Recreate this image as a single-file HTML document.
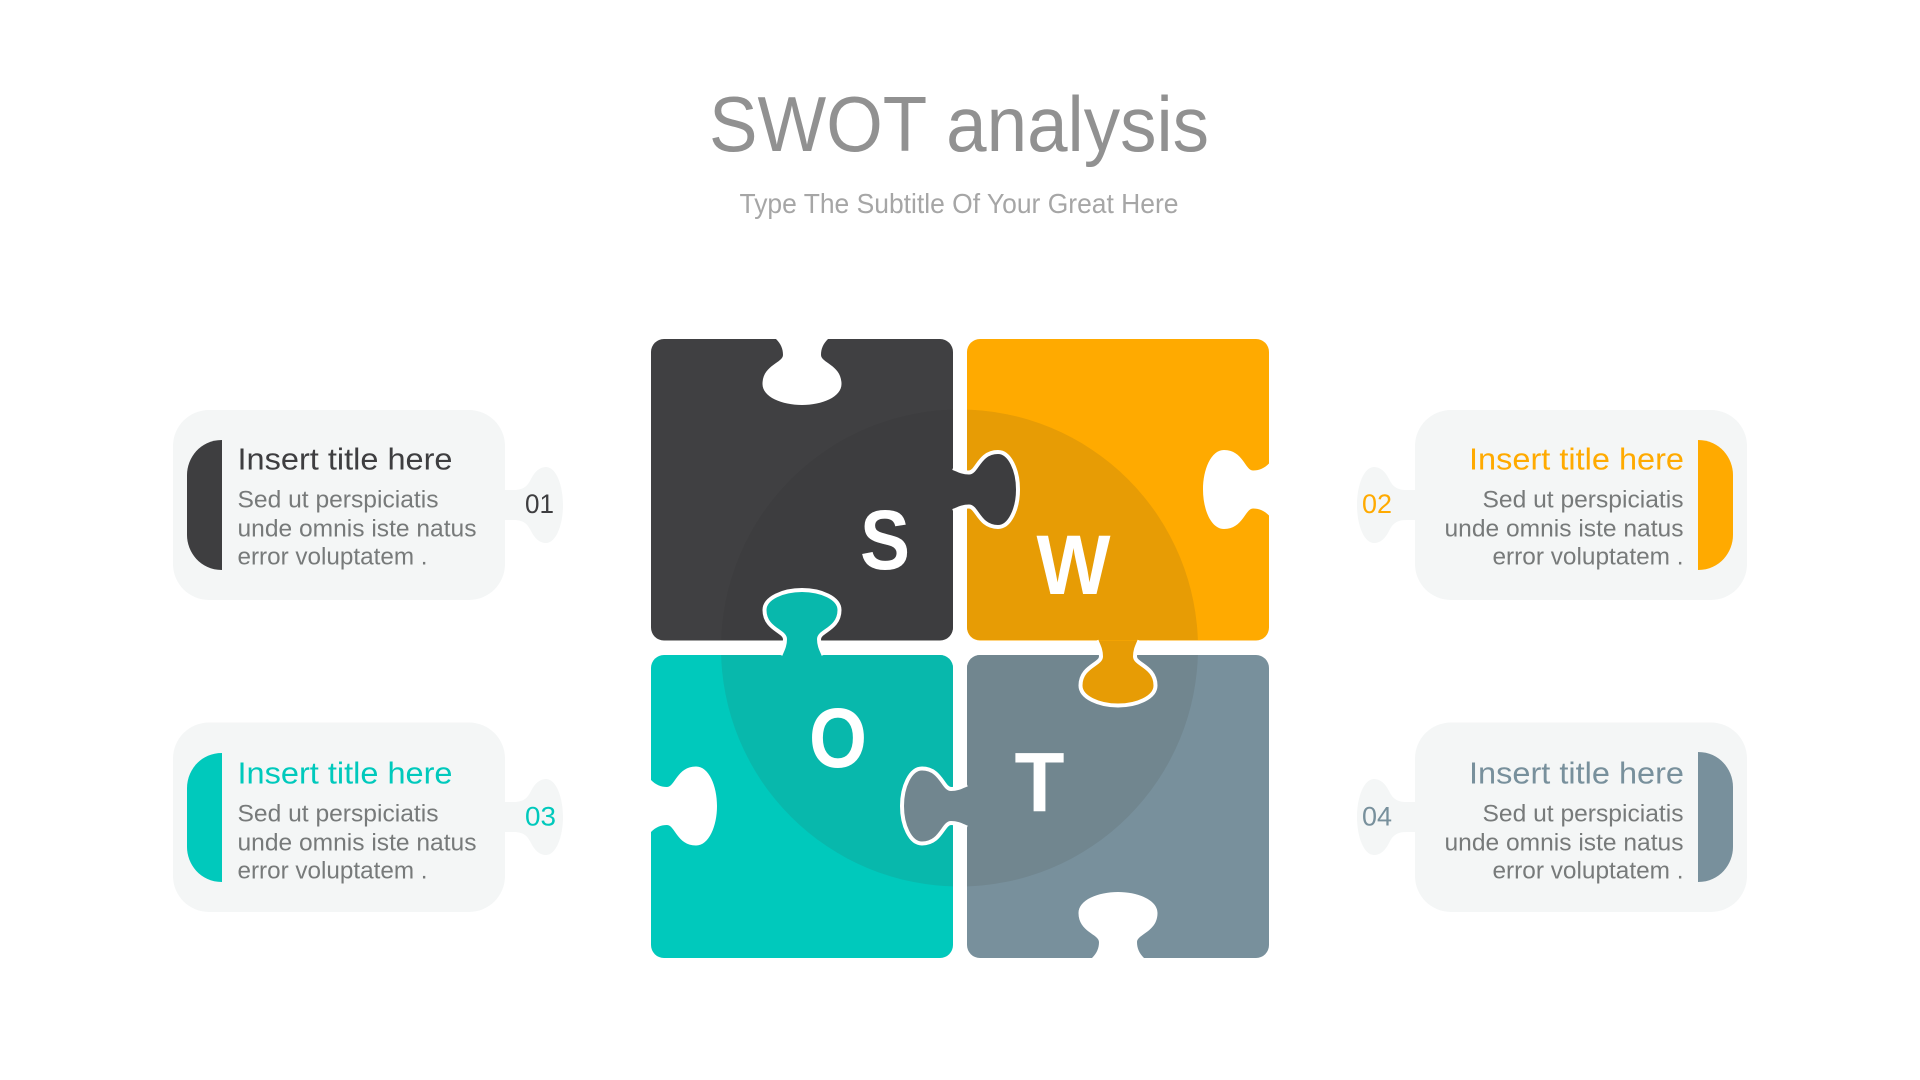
<!DOCTYPE html>
<html><head><meta charset="utf-8"><title>SWOT analysis</title>
<style>html,body{margin:0;padding:0;background:#fff;width:1920px;height:1080px;overflow:hidden}svg{display:block}
text{font-family:"Liberation Sans",sans-serif}
.t{font-size:31px}.b{font-size:24px;fill:#777a7a}.n{font-size:27px}.L{font-size:84px;font-weight:700;fill:#fff;text-anchor:middle}</style></head>
<body>
<svg width="1920" height="1080" viewBox="0 0 1920 1080" xmlns="http://www.w3.org/2000/svg">
<defs>
<path id="notch" d="M-1,-26 L0,-26 C5,-21 10,-19 16,-19 C24,-19 26,-39.5 45,-39.5 C58,-39.5 66,-20 66,0 C66,20 58,39.5 45,39.5 C26,39.5 24,19 16,19 C10,19 5,21 0,26 L-1,26 Z"/>
<path id="tab" d="M0,-21.5 C5,-19.5 9,-17 16,-17 C24,-17 26,-37.5 45,-37.5 C57,-37.5 65,-19 65,0 C65,19 57,37.5 45,37.5 C26,37.5 24,17 16,17 C9,17 5,19.5 0,21.5"/>
<path id="neck" d="M-2,-15 L8,-15 C18,-15 22,-18 26,-26 C30,-34 35,-38 41,-38 C51,-38 58,-20 58,0 C58,20 51,38 41,38 C35,38 30,34 26,26 C22,18 18,15 8,15 L-2,15 Z"/>
<clipPath id="c1"><rect x="651" y="339" width="302" height="301" rx="13"/></clipPath>
<clipPath id="c2"><rect x="967" y="339" width="302" height="301" rx="13"/></clipPath>
<clipPath id="c3"><rect x="651" y="655" width="302" height="303" rx="13"/></clipPath>
<clipPath id="c4"><rect x="967" y="655" width="302" height="303" rx="13"/></clipPath>
</defs>

<text x="709" y="151" font-size="78" fill="#919191" textLength="500" lengthAdjust="spacingAndGlyphs">SWOT analysis</text>
<text x="739.5" y="213" font-size="28" fill="#a6a6a6" textLength="439" lengthAdjust="spacingAndGlyphs">Type The Subtitle Of Your Great Here</text>

<!-- cards -->
<g fill="#f4f6f6">
<rect x="173" y="410" width="332" height="190" rx="36"/>
<use href="#neck" transform="translate(505,505)"/>
<rect x="173" y="722.5" width="332" height="189.5" rx="36"/>
<use href="#neck" transform="translate(505,817)"/>
<rect x="1415" y="410" width="332" height="190" rx="36"/>
<use href="#neck" transform="translate(1415,505) rotate(180)"/>
<rect x="1415" y="722.5" width="332" height="189.5" rx="36"/>
<use href="#neck" transform="translate(1415,817) rotate(180)"/>
</g>
<path d="M222,440 V570 C200,570 187,552 187,535 V475 C187,458 200,440 222,440 Z" fill="#3e3e40"/>
<path d="M222,753 V882 C200,882 187,864 187,847 V788 C187,771 200,753 222,753 Z" fill="#00c9bc"/>
<path d="M1698,440 V570 C1720,570 1733,552 1733,535 V475 C1733,458 1720,440 1698,440 Z" fill="#ffaa00"/>
<path d="M1698,752 V882 C1720,882 1733,864 1733,847 V787 C1733,770 1720,752 1698,752 Z" fill="#78909c"/>

<!-- card text -->
<text class="t" x="237.5" y="469.5" fill="#3e3e40" textLength="215" lengthAdjust="spacingAndGlyphs">Insert title here</text>
<text class="b" x="237.5" y="507.5" textLength="201" lengthAdjust="spacingAndGlyphs">Sed ut perspiciatis</text>
<text class="b" x="237.5" y="536.5" textLength="239" lengthAdjust="spacingAndGlyphs">unde omnis iste natus</text>
<text class="b" x="237.5" y="564.5" textLength="190" lengthAdjust="spacingAndGlyphs">error voluptatem .</text>
<text class="n" x="525" y="513" fill="#3e3e40" textLength="29" lengthAdjust="spacingAndGlyphs">01</text>

<text class="t" x="237.5" y="783.5" fill="#00c9bc" textLength="215" lengthAdjust="spacingAndGlyphs">Insert title here</text>
<text class="b" x="237.5" y="821.5" textLength="201" lengthAdjust="spacingAndGlyphs">Sed ut perspiciatis</text>
<text class="b" x="237.5" y="850.5" textLength="239" lengthAdjust="spacingAndGlyphs">unde omnis iste natus</text>
<text class="b" x="237.5" y="878.5" textLength="190" lengthAdjust="spacingAndGlyphs">error voluptatem .</text>
<text class="n" x="525" y="825.5" fill="#00c9bc" textLength="31" lengthAdjust="spacingAndGlyphs">03</text>

<text class="t" x="1469" y="469.5" fill="#ffaa00" textLength="215" lengthAdjust="spacingAndGlyphs">Insert title here</text>
<text class="b" x="1482.5" y="507.5" textLength="201" lengthAdjust="spacingAndGlyphs">Sed ut perspiciatis</text>
<text class="b" x="1444.5" y="536.5" textLength="239" lengthAdjust="spacingAndGlyphs">unde omnis iste natus</text>
<text class="b" x="1492.5" y="564.5" textLength="191" lengthAdjust="spacingAndGlyphs">error voluptatem .</text>
<text class="n" x="1362" y="513" fill="#ffaa00" textLength="30" lengthAdjust="spacingAndGlyphs">02</text>

<text class="t" x="1469" y="783.5" fill="#78909c" textLength="215" lengthAdjust="spacingAndGlyphs">Insert title here</text>
<text class="b" x="1482.5" y="821.5" textLength="201" lengthAdjust="spacingAndGlyphs">Sed ut perspiciatis</text>
<text class="b" x="1444.5" y="850.5" textLength="239" lengthAdjust="spacingAndGlyphs">unde omnis iste natus</text>
<text class="b" x="1492.5" y="878.5" textLength="191" lengthAdjust="spacingAndGlyphs">error voluptatem .</text>
<text class="n" x="1362" y="825.5" fill="#78909c" textLength="30" lengthAdjust="spacingAndGlyphs">04</text>

<!-- puzzle pieces -->
<rect x="651" y="339" width="302" height="301.5" rx="13" fill="#404042"/>
<rect x="967" y="339" width="302" height="301.5" rx="13" fill="#ffaa00"/>
<rect x="651" y="655" width="302" height="303" rx="13" fill="#00c9bc"/>
<rect x="967" y="655" width="302" height="303" rx="13" fill="#78909c"/>

<!-- central circle -->
<circle cx="959.5" cy="648" r="238.5" fill="#3d3d3f" clip-path="url(#c1)"/>
<circle cx="959.5" cy="648" r="238.5" fill="#e79c05" clip-path="url(#c2)"/>
<circle cx="959.5" cy="648" r="238.5" fill="#08b8ac" clip-path="url(#c3)"/>
<circle cx="959.5" cy="648" r="238.5" fill="#71868f" clip-path="url(#c4)"/>

<!-- notches -->
<g fill="#fff">
<use href="#notch" transform="translate(802,339) rotate(90)"/>
<use href="#notch" transform="translate(1269,489.5) rotate(180)"/>
<use href="#notch" transform="translate(651,806)"/>
<use href="#notch" transform="translate(1118,958) rotate(-90)"/>
</g>

<!-- tabs -->
<g stroke="#fff" stroke-width="4">
<use href="#tab" fill="#3d3d3f" transform="translate(953,489.5)"/>
<use href="#tab" fill="#e79c05" transform="translate(1118,640.5) rotate(90)"/>
<use href="#tab" fill="#71868f" transform="translate(967,806) rotate(180)"/>
<use href="#tab" fill="#08b8ac" transform="translate(802,655) rotate(-90)"/>
</g>

<text class="L" x="885" y="569" textLength="50" lengthAdjust="spacingAndGlyphs">S</text>
<text class="L" x="1073.5" y="594" textLength="74" lengthAdjust="spacingAndGlyphs">W</text>
<text class="L" x="838" y="767" textLength="58" lengthAdjust="spacingAndGlyphs">O</text>
<text class="L" x="1039.5" y="811.5" textLength="50" lengthAdjust="spacingAndGlyphs">T</text>
</svg>
</body></html>
